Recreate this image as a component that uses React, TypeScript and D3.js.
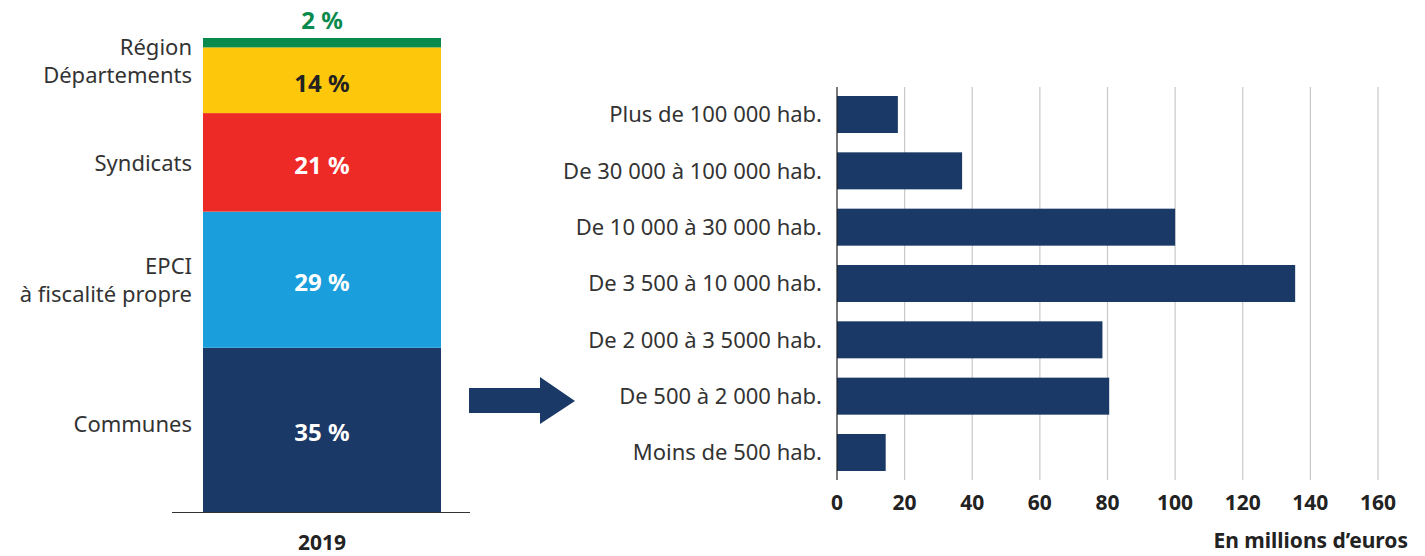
import React, { useEffect, useRef } from 'react';
import * as d3 from 'd3';

// stacked bar (left)
const segments = ['Communes', 'EPCI', 'Syndicats', 'Départements', 'Région'];
const shares = [35, 29, 21, 14, 2];
const shareColors = ['#1b3966', '#1a9fdc', '#ee2a27', '#fdc80c', '#0a8a4c'];
const shareTextColors = ['#fff', '#fff', '#fff', '#222', '#0a8a4c'];
const yearLabel = '2019';

// horizontal bars (right)
const sizeClasses = [
  'Plus de 100 000 hab.',
  'De 30 000 à 100 000 hab.',
  'De 10 000 à 30 000 hab.',
  'De 3 500 à 10 000 hab.',
  'De 2 000 à 3 5000 hab.',
  'De 500 à 2 000 hab.',
  'Moins de 500 hab.',
];
const amounts = [18, 37, 100, 135.5, 78.5, 80.5, 14.4];
const xTicks = [0, 20, 40, 60, 80, 100, 120, 140, 160];

const W = 1425;
const H = 556;
const FONT = '"Noto Sans", Lato, sans-serif';

const App = () => {
  const ref = useRef<SVGSVGElement>(null);

  useEffect(() => {
    const svg = d3.select(ref.current);
    svg.selectAll('*').remove();

    // ---- left stacked bar ----
    const total = d3.sum(shares);
    const y = d3.scaleLinear().domain([0, total]).range([512, 38]);
    const barX = 203;
    const barW = 238;
    const stacked: { v: number; y0: number; y1: number; i: number }[] = [];
    let acc = 0;
    shares.forEach((v, i) => {
      stacked.push({ v, y0: acc, y1: acc + v, i });
      acc += v;
    });

    const left = svg.append('g');
    left
      .selectAll('rect')
      .data(stacked)
      .enter()
      .append('rect')
      .attr('x', barX)
      .attr('width', barW)
      .attr('y', (d) => y(d.y1))
      .attr('height', (d) => y(d.y0) - y(d.y1))
      .attr('fill', (d) => shareColors[d.i]);

    left
      .selectAll('text.pct')
      .data(stacked)
      .enter()
      .append('text')
      .attr('class', 'pct')
      .attr('x', barX + barW / 2)
      .attr('y', (d) => (d.v < 5 ? y(d.y1) - 17 : (y(d.y0) + y(d.y1)) / 2 + 3))
      .attr('dy', '0.35em')
      .attr('text-anchor', 'middle')
      .attr('font-family', FONT)
      .attr('font-weight', 700)
      .attr('font-size', 24)
      .attr('fill', (d) => shareTextColors[d.i])
      .text((d) => `${d.v} %`);

    // segment names on the left
    const top = y(total);
    const names: { lines: string[]; cy: number }[] = [
      { lines: [segments[0]], cy: (y(0) + y(35)) / 2 - 6 },
      { lines: [segments[1], 'à fiscalité propre'], cy: (y(35) + y(64)) / 2 + 1 },
      { lines: [segments[2]], cy: (y(64) + y(85)) / 2 + 1 },
      { lines: [segments[3]], cy: top + 37 },
      { lines: [segments[4]], cy: top + 9 },
    ];
    names.forEach((n) => {
      const t = left
        .append('text')
        .attr('x', 192)
        .attr('text-anchor', 'end')
        .attr('font-family', FONT)
        .attr('font-size', 22)
        .attr('fill', '#333');
      n.lines.forEach((l, k) => {
        t.append('tspan')
          .attr('x', 192)
          .attr('y', n.cy + (k - (n.lines.length - 1) / 2) * 28)
          .attr('dy', '0.35em')
          .text(l);
      });
    });

    left
      .append('line')
      .attr('x1', 172)
      .attr('x2', 470)
      .attr('y1', 512.5)
      .attr('y2', 512.5)
      .attr('stroke', '#333')
      .attr('stroke-width', 1);

    left
      .append('text')
      .attr('x', 322)
      .attr('y', 543)
      .attr('dy', '0.35em')
      .attr('text-anchor', 'middle')
      .attr('font-family', FONT)
      .attr('font-weight', 700)
      .attr('font-size', 21)
      .attr('fill', '#222')
      .text(yearLabel);

    // ---- arrow ----
    svg
      .append('path')
      .attr('d', 'M469,388 L540,388 L540,377 L575,401 L540,424 L540,413 L469,413 Z')
      .attr('fill', '#1b3966');

    // ---- right horizontal bars ----
    const x = d3.scaleLinear().domain([0, 160]).range([837, 1378]);
    const yb = d3
      .scaleBand()
      .domain(sizeClasses)
      .range([87, 480])
      .paddingInner(0.343)
      .paddingOuter(0.16);

    const right = svg.append('g');
    right
      .selectAll('line.grid')
      .data(xTicks.slice(1))
      .enter()
      .append('line')
      .attr('class', 'grid')
      .attr('x1', (d) => x(d))
      .attr('x2', (d) => x(d))
      .attr('y1', 87)
      .attr('y2', 480)
      .attr('stroke', '#c8c8c8')
      .attr('stroke-width', 1.2);

    right
      .selectAll('rect')
      .data(sizeClasses)
      .enter()
      .append('rect')
      .attr('x', x(0))
      .attr('y', (d) => yb(d)!)
      .attr('height', yb.bandwidth())
      .attr('width', (d, i) => x(amounts[i]) - x(0))
      .attr('fill', '#1b3966');

    right
      .append('line')
      .attr('x1', x(0))
      .attr('x2', x(0))
      .attr('y1', 87)
      .attr('y2', 480)
      .attr('stroke', '#222')
      .attr('stroke-width', 1.2);

    right
      .selectAll('text.cat')
      .data(sizeClasses)
      .enter()
      .append('text')
      .attr('class', 'cat')
      .attr('x', 822)
      .attr('y', (d) => yb(d)! + yb.bandwidth() / 2)
      .attr('dy', '0.35em')
      .attr('text-anchor', 'end')
      .attr('font-family', FONT)
      .attr('font-size', 22)
      .attr('fill', '#333')
      .text((d) => d);

    right
      .selectAll('text.tick')
      .data(xTicks)
      .enter()
      .append('text')
      .attr('class', 'tick')
      .attr('x', (d) => x(d))
      .attr('y', 503)
      .attr('dy', '0.35em')
      .attr('text-anchor', 'middle')
      .attr('font-family', FONT)
      .attr('font-weight', 700)
      .attr('font-size', 21)
      .attr('fill', '#222')
      .text((d) => d);

    right
      .append('text')
      .attr('x', 1408)
      .attr('y', 541)
      .attr('dy', '0.35em')
      .attr('text-anchor', 'end')
      .attr('font-family', FONT)
      .attr('font-weight', 700)
      .attr('font-size', 21)
      .attr('fill', '#222')
      .text('En millions d’euros');
  }, []);

  return (
    <svg
      ref={ref}
      width={W}
      height={H}
      style={{ position: 'absolute', left: 0, top: 0, background: '#fff' }}
    />
  );
};

export default App;
